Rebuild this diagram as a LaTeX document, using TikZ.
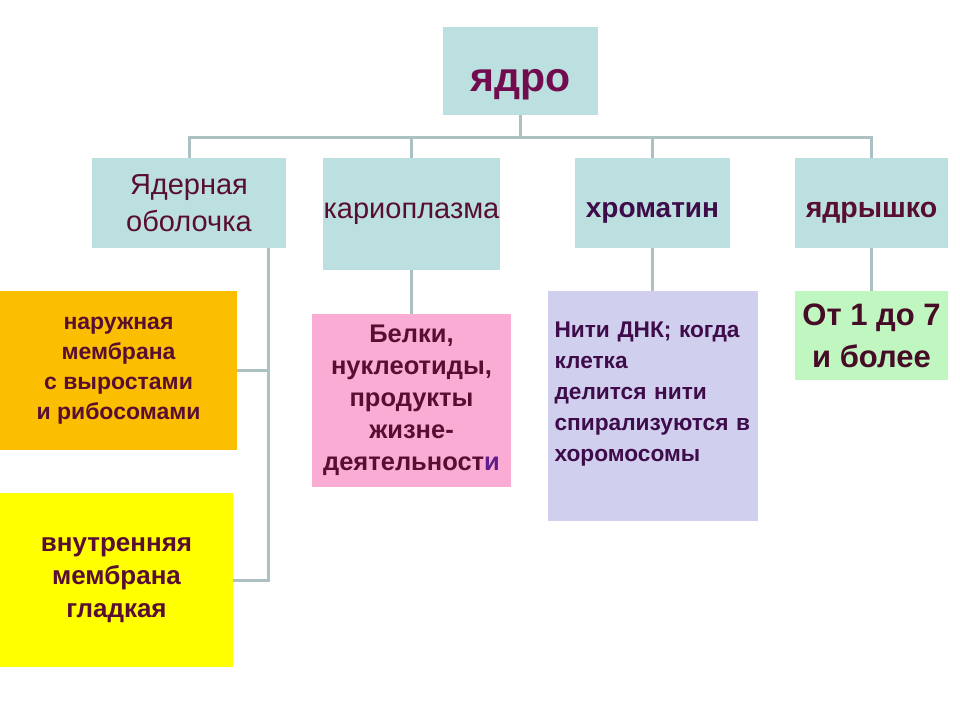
\documentclass[tikz,border=0pt]{standalone}
\usepackage{fontspec}
\setmainfont{Liberation Sans}
\usepackage{xcolor}
\usetikzlibrary{positioning}

\definecolor{boxcyan}{RGB}{188,224,224}
\definecolor{boxorange}{RGB}{252,190,0}
\definecolor{boxyellow}{RGB}{255,255,0}
\definecolor{boxpink}{RGB}{250,172,212}
\definecolor{boxlilac}{RGB}{208,208,238}
\definecolor{boxgreen}{RGB}{192,246,192}
\definecolor{linegray}{RGB}{172,194,194}
\definecolor{txtmaroon}{RGB}{88,14,48}
\definecolor{txtplum}{RGB}{62,12,74}
\definecolor{txtviolet}{RGB}{96,30,140}

\begin{document}
\begin{tikzpicture}[
    x=1pt, y=-1pt,
    every node/.style={inner sep=0pt, outer sep=0pt, align=center},
    topbox/.style={
        rectangle,
        fill=boxcyan,
        text=txtmaroon
    },
    leafbox/.style={
        rectangle,
        text=txtmaroon,
        font=\bfseries\fontsize{23}{31}\selectfont
    },
    link/.style={draw=linegray, line width=3pt}
]
\useasboundingbox (0,0) rectangle (960,720);

\node (yadro) [topbox, minimum width=155pt, minimum height=88pt,
    text height=44pt, text depth=4pt,
    font=\bfseries\fontsize{41}{44}\selectfont, text=txtmaroon!85!magenta]
    at (520.5,71) {ядро};

\node (obolochka) [topbox, minimum width=194pt, minimum height=90pt,
    font=\fontsize{29}{37}\selectfont] at (189,203) {Ядерная\\оболочка};

\node (karioplazma) [topbox, minimum width=177pt, minimum height=112pt,
    font=\fontsize{29}{30}\selectfont] at (411.5,214) {кариоплазма};

\node (hromatin) [topbox, minimum width=155pt, minimum height=90pt,
    text height=30pt, text depth=2pt,
    font=\bfseries\fontsize{28}{30}\selectfont, text=txtplum] at (652.5,203) {хроматин};

\node (yadryshko) [topbox, minimum width=153pt, minimum height=90pt,
    text height=30pt, text depth=2pt,
    font=\bfseries\fontsize{28.5}{30}\selectfont] at (871.5,203) {ядрышко};

\node (naruzh) [leafbox, fill=boxorange, minimum width=237pt, minimum height=159pt,
    font=\bfseries\fontsize{23}{30}\selectfont] at (118.5,370.5)
    {наружная\\мембрана\\с выростами\\и рибосомами};

\node (vnutr) [leafbox, fill=boxyellow, minimum width=233pt, minimum height=174pt,
    font=\bfseries\fontsize{26}{33}\selectfont] at (116.5,580)
    {внутренняя\\мембрана\\гладкая};

\node (belki) [leafbox, fill=boxpink, minimum width=199pt, minimum height=173pt,
    font=\bfseries\fontsize{25.5}{32}\selectfont, below=44pt of karioplazma]
    {Белки,\\нуклеотиды,\\продукты\\жизне-\\деятельност\textcolor{txtviolet}{и}};

\node (niti) [leafbox, fill=boxlilac, minimum width=210pt, minimum height=230pt,
    text width=196pt, align=left, text=txtplum,
    font=\bfseries\fontsize{22.7}{31}\selectfont, below=43pt of hromatin]
    {Нити ДНК; когда\\клетка\\делится нити\\спирализуются в\\хоромосомы\par\vspace{24pt}};

\node (ot17) [leafbox, fill=boxgreen, minimum width=153pt, minimum height=89pt,
    font=\bfseries\fontsize{31}{42}\selectfont, text=txtmaroon!80!black,
    below=43pt of yadryshko] {От 1 до 7\\и более};

% Connectors
\coordinate (bus) at (520.5,137);
\coordinate (spine) at ([xshift=79pt]obolochka.south);

\draw[link] (yadro) -- (bus);
\draw[link] (obolochka) |- (bus) -| (yadryshko);
\draw[link] (karioplazma) -- (karioplazma |- bus);
\draw[link] (hromatin) -- (hromatin |- bus);

\draw[link] (spine) |- (vnutr);
\draw[link] (naruzh) -- (naruzh -| spine);

\draw[link] (karioplazma) -- (belki);
\draw[link] (hromatin) -- (niti);
\draw[link] (yadryshko) -- (ot17);

\end{tikzpicture}
\end{document}
